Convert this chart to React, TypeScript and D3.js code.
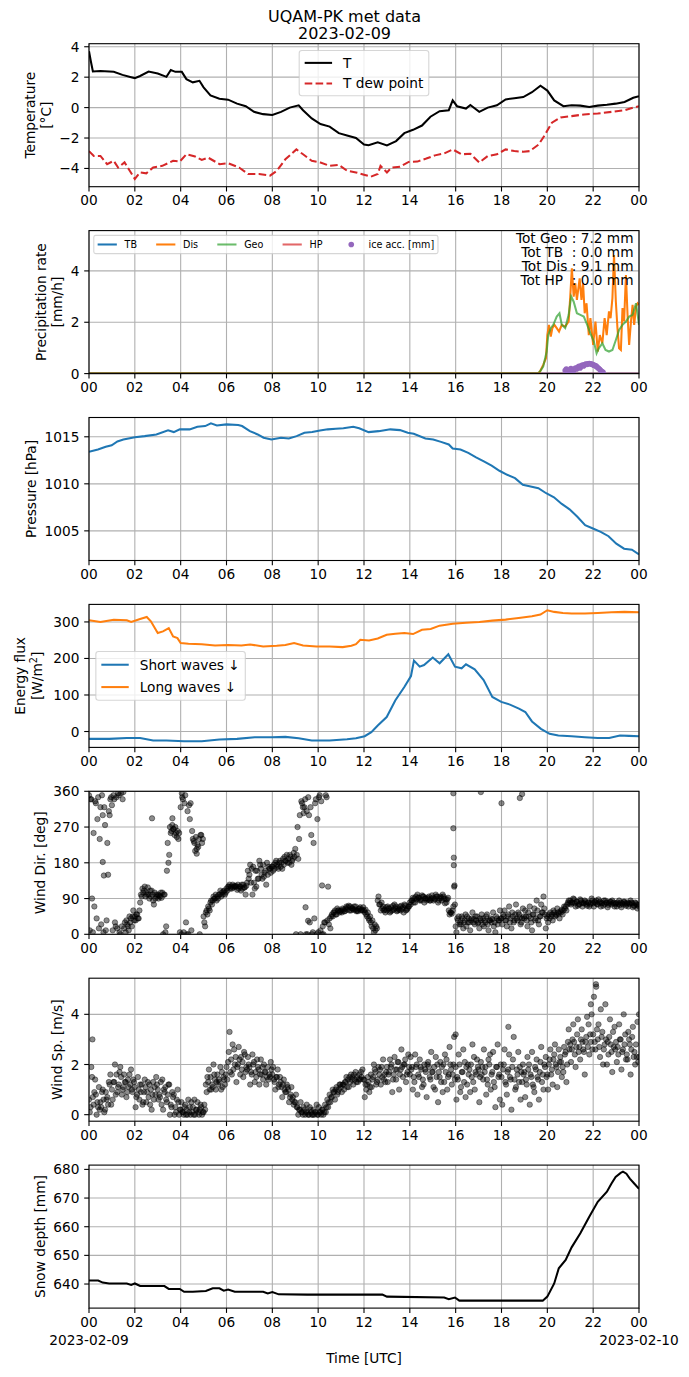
import React from 'react';
import * as d3 from 'd3';

const W = 689;
const H = 1377;
const LEFT = 89;
const RIGHT = 639;
const PANEL_TOP = 43.7;
const PANEL_STEP = 186.9;
const PANEL_H = 143;
const FONT = '"DejaVu Sans", sans-serif';
const FS = 13.7;
const GRID = '#b0b0b0';

const HOUR_TICKS = d3.range(0, 25, 2);
const HOUR_LABELS = ['00', '02', '04', '06', '08', '10', '12', '14', '16', '18', '20', '22', '00'];

// ---- temperature [hour, degC]
const TEMP: [number, number][] = [
  [0, 3.7], [0.08, 3.05], [0.17, 2.37], [0.5, 2.4], [1.08, 2.35], [1.46, 2.15], [1.84, 2.0], [2, 1.94], [2.23, 2.08], [2.6, 2.37],
  [3, 2.24], [3.38, 2.02], [3.57, 2.47], [3.77, 2.35], [4.05, 2.35], [4.25, 1.87], [4.53, 1.66], [4.82, 1.76], [5, 1.33], [5.3, 0.8],
  [5.69, 0.58], [6.07, 0.52], [6.46, 0.26], [6.84, 0.09], [7.2, -0.28], [7.6, -0.43], [8, -0.49], [8.38, -0.28], [8.76, 0], [9.15, 0.15],
  [9.34, -0.17], [9.72, -0.71], [10.1, -1.08], [10.5, -1.25], [10.9, -1.68], [11.26, -1.83], [11.65, -2.0], [12, -2.43], [12.2, -2.47], [12.6, -2.28],
  [13, -2.49], [13.4, -2.2], [13.76, -1.68], [14.14, -1.46], [14.53, -1.18], [14.9, -0.6], [15.3, -0.24], [15.7, -0.17], [15.87, 0.47], [16.06, 0.09],
  [16.45, -0.06], [16.64, 0.17], [17.03, -0.28], [17.4, 0], [17.8, 0.15], [18.18, 0.54], [18.56, 0.62], [18.95, 0.69], [19.33, 1.01], [19.7, 1.44],
  [20, 1.12], [20.3, 0.47], [20.7, 0.09], [21.06, 0.15], [21.44, 0.13], [21.83, 0.04], [22.2, 0.13], [22.6, 0.19], [22.98, 0.26], [23.37, 0.37],
  [23.75, 0.65], [24, 0.75],
];

const DEW: [number, number][] = [
  [0, -2.86], [0.21, -3.18], [0.5, -3.18], [0.79, -3.72], [1.08, -3.5], [1.27, -3.94], [1.55, -3.6], [1.75, -4.09], [2, -4.69], [2.23, -4.26],
  [2.5, -4.32], [2.8, -3.94], [3.2, -3.83], [3.67, -3.5], [3.96, -3.55], [4.25, -3.07], [4.63, -3.22], [4.92, -3.44], [5.2, -3.29], [5.7, -3.72],
  [6.07, -3.66], [6.55, -3.94], [6.94, -4.37], [7.42, -4.37], [7.9, -4.47], [8.2, -4.15], [8.57, -3.4], [9.05, -2.75], [9.34, -3.07], [9.72, -3.5],
  [10.1, -3.61], [10.5, -3.83], [10.9, -3.76], [11.26, -4.15], [11.65, -4.26], [12, -4.41], [12.3, -4.54], [12.6, -4.37], [12.72, -3.83], [13, -4.26],
  [13.2, -3.94], [13.57, -3.89], [13.95, -3.57], [14.33, -3.55], [14.72, -3.35], [15.1, -3.14], [15.5, -3.01], [15.87, -2.75], [16.25, -3.07], [16.64, -3.03],
  [17.03, -3.61], [17.4, -3.18], [17.8, -3.07], [18.18, -2.75], [18.56, -2.86], [18.95, -2.9], [19.23, -2.86], [19.62, -2.43], [19.9, -1.78], [20.2, -0.99],
  [20.58, -0.65], [21.06, -0.56], [21.6, -0.45], [22.2, -0.39], [22.8, -0.28], [23.37, -0.17], [23.75, 0], [24, 0.09],
];

// ---- precipitation rate [hour, mm/h]
const PR_TB: [number, number][] = [[0, 0], [24, 0]];
const PR_HP: [number, number][] = [[0, 0], [24, 0]];
const PR_DIS: [number, number][] = [
  [0, 0], [19.6, 0], [19.68, 0.08], [19.82, 0.34], [19.94, 0.6], [20.0, 1.5], [20.07, 1.9], [20.15, 1.44], [20.22, 1.77], [20.31, 1.9],
  [20.41, 1.77], [20.51, 1.64], [20.63, 1.9], [20.78, 1.83], [20.93, 2.03], [21.0, 3.0], [21.07, 4.1], [21.15, 3.0], [21.22, 3.52], [21.29, 2.87],
  [21.41, 3.71], [21.49, 2.87], [21.56, 3.52], [21.63, 2.35], [21.71, 2.74], [21.81, 1.5], [21.88, 2.16], [22.0, 1.12], [22.1, 2.03], [22.2, 0.86],
  [22.29, 1.5], [22.4, 1.18], [22.5, 2.16], [22.59, 1.5], [22.69, 2.42], [22.76, 2.16], [22.84, 2.94], [22.91, 4.62], [22.99, 2.8], [23.06, 1.77],
  [23.13, 0.99], [23.21, 0.92], [23.28, 2.55], [23.35, 2.03], [23.43, 3.84], [23.5, 2.29], [23.57, 1.12], [23.65, 2.03], [23.72, 2.68], [23.79, 1.9],
  [23.87, 2.61], [23.94, 2.74], [24, 2.68],
];
const PR_GEO: [number, number][] = [
  [0, 0.02], [19.6, 0.02], [19.68, 0.08], [19.82, 0.27], [19.97, 0.86], [20.04, 1.5], [20.15, 1.77], [20.26, 1.9], [20.41, 2.22], [20.53, 2.35],
  [20.63, 1.9], [20.78, 1.77], [20.93, 2.29], [21.04, 3.0], [21.15, 2.8], [21.29, 2.35], [21.44, 2.29], [21.59, 2.22], [21.74, 1.9], [21.88, 1.57],
  [22.03, 1.25], [22.15, 0.79], [22.25, 0.99], [22.4, 1.18], [22.54, 0.92], [22.69, 0.86], [22.84, 0.92], [22.99, 1.31], [23.13, 1.7], [23.28, 1.9],
  [23.43, 2.03], [23.57, 2.22], [23.72, 2.29], [23.87, 2.74], [23.94, 2.29], [24, 1.9],
];
const ICE: [number, number][] = [
  [20.78, 0.12], [20.83, 0.18], [20.88, 0.1], [20.93, 0.06], [20.98, 0.14], [21.03, 0.2], [21.08, 0.14], [21.13, 0.1], [21.18, 0.17], [21.23, 0.22],
  [21.28, 0.18], [21.33, 0.25], [21.38, 0.28], [21.43, 0.22], [21.48, 0.3], [21.53, 0.33], [21.58, 0.3], [21.63, 0.35], [21.68, 0.37], [21.73, 0.36],
  [21.78, 0.38], [21.83, 0.39], [21.88, 0.38], [21.93, 0.37], [21.98, 0.35], [22.03, 0.33], [22.08, 0.31], [22.13, 0.29], [22.18, 0.25], [22.23, 0.21],
  [22.28, 0.17], [22.33, 0.12], [22.38, 0.08], [22.43, 0.05],
];
const PR_TOTALS = ['Tot Geo : 7.2 mm', 'Tot TB  : 0.0 mm', 'Tot Dis : 9.1 mm', 'Tot HP  : 0.0 mm'];

// ---- pressure [hour, hPa]
const PRESSURE: [number, number][] = [
  [0, 1013.4], [0.39, 1013.64], [0.73, 1013.93], [0.99, 1014.1], [1.24, 1014.5], [1.5, 1014.7], [2.0, 1014.96], [2.43, 1015.07], [2.94, 1015.25], [3.45, 1015.68],
  [3.7, 1015.5], [3.96, 1015.79], [4.39, 1015.79], [4.73, 1016.07], [5.07, 1016.14], [5.32, 1016.43], [5.58, 1016.21], [6.0, 1016.32], [6.51, 1016.25], [6.68, 1016.14],
  [7.02, 1015.6], [7.36, 1015.25], [7.62, 1014.9], [7.96, 1014.71], [8.38, 1014.9], [8.72, 1014.82], [9.06, 1015.07], [9.4, 1015.43], [9.74, 1015.5], [10.08, 1015.68],
  [10.42, 1015.79], [10.77, 1015.86], [11.1, 1015.9], [11.53, 1016.07], [11.79, 1015.9], [12.2, 1015.5], [12.64, 1015.6], [13.15, 1015.79], [13.57, 1015.71], [13.91, 1015.43],
  [14.17, 1015.32], [14.68, 1014.82], [15.02, 1014.71], [15.36, 1014.46], [15.7, 1014.18], [15.87, 1013.75], [16.21, 1013.64], [16.55, 1013.29], [16.89, 1012.82], [17.23, 1012.39],
  [17.57, 1011.93], [17.91, 1011.39], [18.25, 1010.96], [18.59, 1010.6], [18.93, 1009.89], [19.27, 1009.71], [19.61, 1009.54], [19.95, 1009.0], [20.29, 1008.57], [20.63, 1007.86],
  [20.97, 1007.29], [21.31, 1006.5], [21.65, 1005.6], [21.99, 1005.25], [22.33, 1004.9], [22.67, 1004.43], [23.01, 1003.64], [23.35, 1003.11], [23.69, 1003.0], [24, 1002.5],
];

// ---- radiation [hour, W/m2]
const LONGWAVE: [number, number][] = [
  [0, 304.5], [0.5, 300], [1.08, 306], [1.65, 304.5], [1.84, 300], [2.23, 308], [2.52, 313.7], [2.7, 301.7], [3.0, 269.5], [3.23, 274],
  [3.48, 283], [3.67, 260], [3.86, 255.7], [4.0, 242], [4.34, 240], [4.92, 239], [5.5, 235.5], [6.07, 237], [6.65, 235.5], [7.03, 238.3],
  [7.6, 232.7], [8.19, 234.6], [8.57, 237], [8.95, 242], [9.34, 235.5], [9.92, 232.7], [10.5, 232.7], [11.07, 231], [11.45, 234.6], [11.65, 239],
  [11.84, 251], [12.22, 249.3], [12.6, 254.8], [12.99, 265], [13.37, 267.7], [13.76, 269.5], [14.14, 266.8], [14.53, 278.7], [14.91, 280.6], [15.3, 289.8],
  [15.87, 295.3], [16.45, 298], [17.03, 300], [17.6, 303.6], [18.18, 306.3], [18.75, 311], [19.33, 315.5], [19.7, 320], [20.0, 332], [20.3, 327.5],
  [20.68, 324.7], [21.06, 323], [21.64, 323], [22.2, 324.7], [22.8, 326.6], [23.37, 327.5], [24, 326.6],
];
const SHORTWAVE: [number, number][] = [
  [0, -20.2], [0.88, -20.2], [1.65, -17.5], [2.23, -17.5], [2.8, -24.8], [3.38, -24.8], [4.15, -26.7], [4.92, -26.7], [5.69, -22], [6.46, -20.2],
  [7.23, -15.6], [7.99, -15.6], [8.57, -14.7], [9.15, -18.4], [9.72, -24.8], [10.5, -24.8], [11.26, -21.2], [11.65, -18.4], [12.03, -12.9], [12.32, -1.8],
  [12.6, 16.6], [12.99, 39.6], [13.37, 85.6], [13.76, 122], [14.05, 151.8], [14.18, 194], [14.43, 177.6], [14.62, 182], [15.0, 202.4], [15.3, 186.8],
  [15.68, 211.6], [15.97, 177.6], [16.26, 173], [16.45, 184], [16.83, 170.2], [17.22, 140.8], [17.6, 94.8], [17.99, 81], [18.37, 73.6], [18.76, 62.6],
  [19.04, 53.4], [19.33, 27.6], [19.72, 7.4], [20.1, -6.4], [20.48, -11], [21.06, -12.9], [21.64, -15.6], [22.2, -17.5], [22.7, -17.5], [23.17, -11],
  [23.56, -12], [24, -12.9],
];

// ---- wind direction, three samples per 0.1 h (at h, h + 0.033, h + 0.067), deg
const WIND_DIR_A = [
  350, 340, 255, 330, 345, 320, 300, 275, 230, 300,
  325, 340, 345, 350, 355, 358, 5, 20, 30, 45,
  45, 50, 60, 95, 110, 105, 100, 95, 85, 90,
  100, 95, 105, 100, 160, 200, 260, 265, 255, 240,
  320, 340, 350, 310, 290, 260, 230, 215, 240, 250,
  45, 55, 70, 80, 85, 90, 95, 100, 105, 110,
  115, 120, 120, 118, 122, 125, 120, 115, 118, 130,
  150, 165, 130, 120, 140, 165, 175, 160, 150, 165,
  170, 165, 175, 180, 180, 175, 185, 190, 195, 190,
  215, 270, 300, 330, 320, 310, 300, 250, 230, 340,
  5, 10, 20, 30, 35, 40, 50, 55, 50, 60,
  60, 62, 65, 68, 70, 65, 62, 60, 65, 62,
  60, 50, 40, 30, 15, 10, 85, 75, 65, 62,
  60, 65, 68, 62, 70, 65, 60, 68, 72, 65,
  80, 85, 90, 88, 92, 85, 95, 90, 88, 85,
  92, 88, 95, 90, 85, 90, 80, 60, 55, 70,
  20, 35, 30, 40, 35, 45, 30, 40, 38, 35,
  30, 35, 40, 30, 25, 35, 38, 30, 40, 35,
  40, 45, 35, 50, 40, 45, 50, 35, 42, 40,
  40, 35, 45, 30, 50, 40, 35, 45, 55, 50,
  45, 40, 50, 55, 48, 52, 55, 60, 70, 80,
  85, 80, 78, 82, 75, 80, 78, 76, 80, 78,
  78, 80, 75, 82, 78, 76, 80, 78, 75, 80,
  78, 76, 80, 75, 78, 80, 76, 78, 72, 75,
];
const WIND_DIR_B = [
  10, 90, 70, 40, 15, 25, 5, 10, 150, 340,
  10, 30, 15, 5, 20, 15, 35, 10, 40, 60,
  35, 40, 80, 115, 120, 100, 90, 110, 75, 100,
  90, 105, 0, 5, 230, 270, 275, 250, 245, 255,
  0, 5, 30, 0, 330, 240, 210, 225, 0, 230,
  30, 60, 65, 85, 95, 100, 90, 110, 100, 100,
  110, 125, 115, 122, 120, 115, 110, 125, 100, 160,
  175, 100, 115, 160, 185, 150, 145, 125, 170, 155,
  160, 180, 170, 185, 165, 195, 200, 180, 175, 205,
  0, 190, 0, 320, 340, 0, 30, 0, 40, 0,
  345, 335, 0, 350, 120, 15, 45, 60, 65, 55,
  55, 58, 70, 72, 60, 62, 70, 58, 68, 60,
  55, 45, 35, 20, 5, 20, 95, 60, 70, 55,
  70, 55, 60, 75, 58, 62, 72, 55, 60, 70,
  75, 92, 80, 100, 85, 98, 80, 85, 95, 90,
  85, 100, 80, 95, 100, 78, 88, 50, 52, 120,
  5, 45, 25, 15, 50, 30, 10, 55, 25, 45,
  15, 50, 20, 45, 10, 40, 55, 5, 25, 60,
  25, 60, 20, 70, 15, 30, 75, 55, 25, 65,
  60, 20, 70, 10, 65, 85, 25, 75, 95, 15,
  30, 55, 35, 45, 65, 40, 62, 70, 60, 85,
  75, 90, 70, 72, 88, 70, 85, 72, 70, 90,
  70, 85, 88, 70, 72, 85, 68, 82, 85, 70,
  70, 85, 68, 82, 72, 70, 85, 68, 80, 65,
];
const WIND_DIR_C = [
  340, 5, 335, 290, 240, 350, 320, 35, 310, 345,
  350, 20, 355, 0, 340, 30, 25, 45, 20, 35,
  50, 40, 100, 105, 95, 118, 110, 100, 105, 95,
  98, 92, 100, 20, 180, 255, 265, 270, 260, 5,
  345, 330, 0, 325, 10, 235, 245, 220, 250, 240,
  20, 50, 60, 75, 90, 85, 100, 95, 108, 105,
  120, 115, 125, 120, 112, 120, 125, 118, 122, 140,
  130, 170, 160, 140, 175, 140, 155, 180, 165, 170,
  175, 185, 165, 170, 190, 185, 180, 200, 185, 195,
  200, 240, 335, 305, 0, 345, 320, 5, 330, 290,
  350, 0, 30, 345, 25, 45, 55, 50, 60, 58,
  65, 58, 62, 60, 66, 70, 58, 64, 60, 68,
  62, 55, 45, 35, 25, 15, 75, 80, 60, 68,
  65, 58, 72, 66, 60, 70, 64, 75, 62, 70,
  85, 80, 95, 92, 88, 95, 90, 92, 85, 98,
  90, 95, 85, 92, 95, 88, 92, 55, 60, 75,
  40, 25, 45, 30, 20, 40, 35, 30, 45, 28,
  40, 25, 35, 50, 35, 30, 20, 45, 35, 40,
  50, 35, 45, 30, 55, 35, 40, 50, 30, 45,
  45, 55, 40, 50, 35, 60, 45, 55, 65, 40,
  50, 45, 60, 50, 55, 58, 50, 65, 75, 78,
  80, 88, 82, 76, 85, 78, 82, 80, 75, 85,
  82, 76, 80, 78, 85, 80, 74, 82, 78, 76,
  80, 74, 78, 82, 76, 78, 80, 72, 78, 74,
];
const WIND_DIR_EXTRA: [number, number][] = [
  [0.6, 182], [0.65, 148], [2.75, 292], [3.64, 292], [4.05, 355], [4.7, 203], [9.45, 68], [9.56, 34], [10.17, 123],
  [15.9, 355], [15.9, 267], [15.92, 193], [15.92, 174], [15.95, 123], [17.1, 358], [18.0, 330], [18.8, 343], [18.9, 353], [24, 70],
];

// ---- wind speed, three samples per 0.1 h, m/s
const WIND_SP_A = [
  0.6, 1.9, 0.4, 0.8, 0.3, 0.5, 1.0, 0.2, 0.7, 1.2,
  1.0, 1.3, 1.6, 1.2, 1.5, 1.1, 1.3, 1.4, 1.2, 0.9,
  1.1, 0.8, 0.6, 1.2, 0.9, 0.5, 0.7, 1.0, 1.3, 0.8,
  1.0, 0.7, 1.4, 0.9, 0.5, 1.2, 0.3, 0.8, 0.1, 0.5,
  0.2, 0.1, 0.4, 0.0, 0.3, 0.1, 0.6, 0.2, 0.0, 0.3,
  0.1, 1.2, 1.3, 1.5, 1.1, 1.4, 1.6, 1.3, 1.7, 1.4,
  1.9, 2.5, 2.2, 1.8, 2.3, 2.0, 1.6, 2.1, 2.4, 1.8,
  1.9, 1.6, 2.1, 1.5, 1.8, 2.2, 1.4, 1.7, 1.9, 1.5,
  1.6, 1.3, 1.5, 1.2, 1.1, 1.4, 0.9, 1.0, 0.8, 0.7,
  0.5, 0.3, 0.2, 0.1, 0.2, 0.4, 0.0, 0.1, 0.2, 0.1,
  0.0, 0.1, 0.2, 0.4, 0.6, 0.8, 0.7, 0.9, 1.1, 1.0,
  1.1, 1.2, 1.3, 1.4, 1.3, 1.5, 1.4, 1.5, 1.6, 1.5,
  1.4, 1.0, 1.3, 1.6, 1.5, 1.7, 1.4, 1.8, 1.5, 1.6,
  1.9, 1.7, 2.0, 1.6, 1.4, 2.1, 1.8, 1.5, 2.2, 1.7,
  1.6, 1.9, 1.3, 2.0, 1.5, 1.8, 1.2, 1.7, 2.1, 1.4,
  1.7, 1.0, 2.0, 1.5, 1.9, 1.3, 2.2, 1.6, 1.8, 2.0,
  1.9, 1.4, 0.9, 1.7, 2.1, 1.2, 1.8, 1.5, 2.3, 1.6,
  1.8, 2.1, 1.4, 1.9, 1.2, 2.4, 1.7, 1.1, 1.9, 1.6,
  1.5, 2.0, 1.2, 1.8, 1.4, 2.2, 1.0, 1.6, 1.9, 1.3,
  1.7, 1.2, 2.0, 1.5, 1.1, 1.8, 1.4, 2.1, 1.6, 1.9,
  1.6, 2.2, 1.8, 2.4, 1.9, 2.6, 2.1, 1.7, 2.5, 2.9,
  2.8, 3.0, 2.4, 3.2, 2.7, 3.4, 2.5, 3.1, 3.6, 2.9,
  3.2, 2.6, 3.0, 2.3, 3.3, 2.8, 2.0, 3.1, 2.5, 2.7,
  2.9, 2.4, 3.0, 2.6, 3.2, 2.2, 2.8, 3.1, 2.5, 2.3,
];
const WIND_SP_B = [
  0.1, 1.5, 0.9, 0.0, 1.1, 0.3, 0.6, 0.9, 0.4, 1.6,
  0.6, 2.0, 0.9, 1.7, 0.8, 1.6, 0.7, 1.1, 1.8, 1.4,
  0.3, 1.5, 1.2, 0.4, 1.4, 0.9, 1.2, 0.2, 0.6, 1.5,
  0.6, 1.3, 0.2, 1.1, 0.8, 0.0, 0.9, 0.0, 0.6, 0.0,
  0.5, 0.0, 0.0, 0.6, 0.0, 0.3, 0.0, 0.5, 0.2, 0.0,
  0.4, 0.9, 1.8, 1.0, 2.0, 1.0, 1.2, 1.9, 1.1, 1.2,
  1.4, 3.3, 1.6, 2.6, 1.3, 2.7, 2.3, 1.5, 1.7, 2.3,
  1.2, 2.4, 1.3, 2.2, 1.2, 1.6, 2.0, 1.2, 1.4, 2.1,
  1.9, 1.0, 1.8, 1.5, 0.7, 1.0, 1.2, 0.5, 1.1, 0.4,
  0.8, 0.0, 0.5, 0.0, 0.0, 0.1, 0.3, 0.0, 0.0, 0.4,
  0.3, 0.0, 0.0, 0.1, 0.3, 0.5, 1.0, 0.6, 0.8, 1.2,
  0.9, 1.0, 1.5, 1.1, 1.6, 1.2, 1.7, 1.3, 1.4, 1.8,
  0.7, 1.2, 0.9, 1.1, 2.0, 1.2, 1.9, 1.2, 2.2, 1.3,
  1.3, 2.2, 0.9, 2.3, 1.8, 1.0, 2.6, 2.0, 1.3, 2.4,
  2.3, 1.0, 2.4, 0.8, 2.2, 1.1, 2.0, 0.7, 1.9, 2.5,
  1.1, 2.3, 0.5, 2.1, 0.9, 2.4, 1.0, 2.7, 1.2, 3.1,
  0.6, 2.4, 1.1, 2.6, 0.7, 2.0, 0.9, 2.8, 1.0, 2.2,
  0.5, 1.6, 2.6, 0.8, 2.2, 1.0, 2.5, 0.3, 2.8, 0.6,
  0.4, 2.6, 0.8, 2.4, 0.2, 3.1, 1.1, 2.5, 0.6, 2.0,
  0.7, 2.3, 0.4, 2.5, 0.9, 2.2, 0.6, 2.7, 1.0, 2.3,
  1.0, 2.6, 1.2, 2.8, 1.1, 2.1, 1.5, 2.7, 1.3, 3.4,
  2.1, 3.6, 1.9, 3.8, 2.2, 2.9, 1.6, 3.9, 2.4, 4.0,
  4.7, 5.1, 3.6, 4.2, 2.0, 4.4, 2.9, 3.8, 1.7, 3.5,
  2.1, 3.6, 1.8, 4.0, 2.2, 3.3, 1.6, 3.5, 2.0, 3.7,
];
const WIND_SP_C = [
  0.3, 0.7, 1.4, 0.5, 0.2, 0.9, 0.1, 0.6, 1.3, 0.4,
  1.3, 0.8, 1.1, 1.9, 1.0, 1.3, 0.9, 1.6, 1.0, 1.3,
  0.7, 1.0, 0.9, 0.5, 1.1, 1.3, 0.4, 0.8, 1.1, 1.2,
  0.8, 0.4, 1.0, 0.6, 1.2, 0.4, 0.7, 0.3, 1.0, 0.2,
  0.1, 0.3, 0.2, 0.1, 0.5, 0.0, 0.2, 0.1, 0.4, 0.1,
  0.2, 1.5, 1.0, 1.2, 1.6, 1.3, 1.4, 1.0, 1.5, 1.6,
  2.1, 1.7, 2.8, 2.0, 1.9, 2.2, 1.8, 2.5, 1.9, 2.0,
  1.7, 2.0, 1.7, 1.9, 1.6, 1.9, 1.7, 1.5, 1.6, 1.8,
  1.4, 1.5, 1.1, 1.3, 1.2, 0.9, 1.1, 0.7, 0.6, 0.5,
  0.3, 0.2, 0.1, 0.3, 0.1, 0.0, 0.2, 0.0, 0.1, 0.0,
  0.1, 0.2, 0.1, 0.3, 0.5, 0.7, 0.9, 1.0, 0.9, 1.2,
  1.2, 1.3, 1.1, 1.5, 1.4, 1.6, 1.3, 1.4, 1.7, 1.4,
  1.2, 1.5, 1.1, 1.4, 1.8, 1.3, 1.6, 1.9, 1.4, 1.7,
  1.6, 1.9, 1.4, 1.8, 2.1, 1.6, 1.9, 2.0, 1.6, 1.9,
  1.8, 1.5, 1.9, 1.6, 1.9, 1.4, 1.8, 2.0, 1.5, 1.7,
  1.9, 1.5, 1.7, 1.3, 2.0, 1.7, 1.5, 2.0, 1.6, 1.4,
  1.5, 2.0, 1.7, 1.3, 1.9, 1.6, 2.0, 1.3, 1.7, 1.9,
  1.5, 1.9, 1.7, 1.4, 2.0, 1.6, 1.3, 1.9, 1.5, 2.0,
  1.8, 1.3, 1.7, 1.5, 1.9, 1.4, 1.8, 1.3, 1.7, 1.6,
  1.4, 1.8, 1.6, 1.2, 1.9, 1.5, 1.7, 1.3, 2.0, 1.5,
  2.0, 1.6, 2.2, 2.0, 1.7, 2.3, 1.9, 2.4, 2.0, 2.6,
  2.6, 2.9, 2.7, 2.5, 3.0, 2.6, 2.9, 2.7, 3.2, 2.6,
  2.9, 3.4, 2.7, 3.1, 2.6, 3.0, 2.4, 2.8, 3.3, 2.6,
  2.7, 3.0, 2.5, 2.8, 2.4, 3.0, 2.6, 2.3, 2.8, 2.1,
];
const WIND_SP_EXTRA: [number, number][] = [
  [0.15, 3.0], [16.0, 3.2], [18.3, 3.5], [21.9, 4.4], [22.12, 5.2], [24, 4.0], [24, 2.3],
];

// ---- snow depth [hour, mm]
const SNOW: [number, number][] = [
  [0, 641.2], [0.4, 641.2], [0.6, 640.5], [0.88, 640.2], [1.65, 640.2], [1.84, 639.7], [2.0, 640.2], [2.23, 639.3], [3.29, 639.3], [3.48, 638.3],
  [3.96, 638.3], [4.15, 637.3], [4.53, 637.3], [5.1, 637.6], [5.4, 638.5], [5.69, 638.5], [5.88, 637.7], [6.07, 638.1], [6.36, 637.3], [7.6, 637.3],
  [7.8, 636.7], [8.0, 637.2], [8.28, 636.4], [9.53, 636.3], [12.8, 636.3], [13.0, 635.6], [15.5, 635.3], [15.7, 634.7], [15.97, 635.3], [16.16, 634.2],
  [19.8, 634.2], [20.0, 635.6], [20.3, 640.2], [20.5, 645.5], [20.8, 648.4], [21.06, 652.8], [21.44, 657.7], [21.83, 663.5], [22.2, 668.7], [22.6, 672.2],
  [22.8, 675.1], [22.98, 677.4], [23.2, 678.8], [23.3, 679.2], [23.45, 678.5], [23.6, 676.8], [23.8, 675.0], [24, 673.2],
];

const canvasCtx = typeof document !== 'undefined' ? document.createElement('canvas').getContext('2d') : null;
function textWidth(s: string, size: number) {
  if (!canvasCtx) return s.length * size * 0.62;
  canvasCtx.font = `${size}px "DejaVu Sans"`;
  return canvasCtx.measureText(s).width;
}

const fmtTick = (v: number) => (v < 0 ? '\u2212' + Math.abs(v) : String(v));

type Scale = d3.ScaleLinear<number, number>;

type AxesProps = {
  index: number;
  domain: [number, number];
  ticks: number[];
  label: React.ReactNode[];
  labelGap?: number;
  labelShift?: number;
  dates?: boolean;
  children: (x: Scale, y: Scale) => React.ReactNode;
  overlay?: (x: Scale, y: Scale, top: number, bottom: number) => React.ReactNode;
};

const Axes = ({ index, domain, ticks, label, labelGap = 15.5, labelShift = 0, dates = false, children, overlay }: AxesProps) => {
  const top = PANEL_TOP + index * PANEL_STEP;
  const bottom = top + PANEL_H;
  const x = d3.scaleLinear().domain([0, 24]).range([LEFT, RIGHT]);
  const y = d3.scaleLinear().domain(domain).range([bottom, top]);
  const tickText = ticks.map(fmtTick);
  const maxW = d3.max(tickText, (s) => textWidth(s, FS)) ?? 0;
  const lastBase = LEFT - 9.6 - maxW - 5.5 - 3.2 - labelShift;
  const midY = (top + bottom) / 2;
  const clipId = `clip-${index}`;
  return (
    <g>
      <defs>
        <clipPath id={clipId}>
          <rect x={LEFT} y={top} width={RIGHT - LEFT} height={PANEL_H} />
        </clipPath>
      </defs>
      {HOUR_TICKS.map((h) => (
        <line key={'gx' + h} x1={x(h)} x2={x(h)} y1={top} y2={bottom} stroke={GRID} strokeWidth={1.1} />
      ))}
      {ticks.map((t) => (
        <line key={'gy' + t} x1={LEFT} x2={RIGHT} y1={y(t)} y2={y(t)} stroke={GRID} strokeWidth={1.1} />
      ))}
      <g clipPath={`url(#${clipId})`}>{children(x, y)}</g>
      <rect x={LEFT} y={top} width={RIGHT - LEFT} height={PANEL_H} fill="none" stroke="black" strokeWidth={1.1} />
      {overlay && overlay(x, y, top, bottom)}
      {ticks.map((t, i) => (
        <g key={'ty' + t}>
          <line x1={LEFT - 4.8} x2={LEFT} y1={y(t)} y2={y(t)} stroke="black" strokeWidth={1.1} />
          <text x={LEFT - 9.6} y={y(t) + 5} textAnchor="end" fontSize={FS}>{tickText[i]}</text>
        </g>
      ))}
      {HOUR_TICKS.map((h, i) => (
        <g key={'tx' + h}>
          <line x1={x(h)} x2={x(h)} y1={bottom} y2={bottom + 4.8} stroke="black" strokeWidth={1.1} />
          <text x={x(h)} y={bottom + 18.7} textAnchor="middle" fontSize={FS}>{HOUR_LABELS[i]}</text>
        </g>
      ))}
      {dates && (
        <g fontSize={FS}>
          <text x={x(0)} y={bottom + 37} textAnchor="middle">2023-02-09</text>
          <text x={x(24)} y={bottom + 37} textAnchor="middle">2023-02-10</text>
          <text x={(LEFT + RIGHT) / 2} y={bottom + 55} textAnchor="middle">Time [UTC]</text>
        </g>
      )}
      {label.map((ln, k) => {
        const bx = lastBase - (label.length - 1 - k) * labelGap;
        return (
          <text key={'yl' + k} transform={`translate(${bx},${midY}) rotate(-90)`} textAnchor="middle" fontSize={FS}>
            {ln}
          </text>
        );
      })}
    </g>
  );
};

type LegendItem = { label: string; color: string; dash?: string; opacity?: number; marker?: boolean };

// matplotlib-like legend box; rows stacked (ncol = 1) or one row (ncol = n)
const Legend = ({ items, left, top, fs, horizontal = false, rowH }: { items: LegendItem[]; left: number; top: number; fs: number; horizontal?: boolean; rowH?: number }) => {
  const pad = 0.4 * fs;
  const hl = 2 * fs;
  const htp = 0.8 * fs;
  const rh = rowH ?? fs;
  const widths = items.map((it) => textWidth(it.label, fs));
  let boxW: number;
  let boxH: number;
  const pos: { x: number; cy: number }[] = [];
  if (horizontal) {
    let cx = left + pad;
    items.forEach((_, i) => {
      pos.push({ x: cx, cy: top + pad + rh / 2 });
      cx += hl + htp + widths[i] + (i < items.length - 1 ? 2 * fs : 0);
    });
    boxW = cx - left + pad;
    boxH = 2 * pad + rh;
  } else {
    items.forEach((_, i) => pos.push({ x: left + pad, cy: top + pad + i * (rh + 0.5 * fs) + rh / 2 }));
    boxW = 2 * pad + hl + htp + (d3.max(widths) ?? 0);
    boxH = 2 * pad + items.length * rh + (items.length - 1) * 0.5 * fs;
  }
  return (
    <g>
      <rect x={left} y={top} width={boxW} height={boxH} rx={0.2 * fs} fill="white" fillOpacity={0.8} stroke="#cccccc" strokeOpacity={0.8} strokeWidth={1.1} />
      {items.map((it, i) => (
        <g key={it.label}>
          {it.marker ? (
            <circle cx={pos[i].x + hl / 2} cy={pos[i].cy} r={2.8} fill={it.color} />
          ) : (
            <line x1={pos[i].x} x2={pos[i].x + hl} y1={pos[i].cy} y2={pos[i].cy} stroke={it.color} strokeOpacity={it.opacity ?? 1} strokeWidth={2.05} strokeDasharray={it.dash} />
          )}
          <text x={pos[i].x + hl + htp} y={pos[i].cy + 0.36 * fs} fontSize={fs}>{it.label}</text>
        </g>
      ))}
    </g>
  );
};

const lineOf = (x: Scale, y: Scale, data: [number, number][]) =>
  d3.line<[number, number]>().x((d) => x(d[0])).y((d) => y(d[1]))(data) ?? '';

const scatterPts = (a: number[], b: number[], c: number[], extra: [number, number][]): [number, number][] => [
  ...a.map((v, i) => [i * 0.1, v] as [number, number]),
  ...b.map((v, i) => [i * 0.1 + 0.033, v] as [number, number]),
  ...c.map((v, i) => [i * 0.1 + 0.067, v] as [number, number]),
  ...extra,
];

const Dots = ({ x, y, pts }: { x: Scale; y: Scale; pts: [number, number][] }) => (
  <g>
    {pts.map((d, i) => (
      <circle key={i} cx={x(d[0])} cy={y(d[1])} r={2.7} fill="black" fillOpacity={0.45} stroke="black" strokeOpacity={0.45} strokeWidth={0.9} />
    ))}
  </g>
);

const App = () => {
  const dirPts = scatterPts(WIND_DIR_A, WIND_DIR_B, WIND_DIR_C, WIND_DIR_EXTRA);
  const spPts = scatterPts(WIND_SP_A, WIND_SP_B, WIND_SP_C, WIND_SP_EXTRA);
  const lw = 2.05;
  return (
    <svg width={W} height={H} style={{ position: 'absolute', left: 0, top: 0, background: 'white' }} fontFamily={FONT}>
      <rect width={W} height={H} fill="white" />
      <text x={W / 2} y={21.5} textAnchor="middle" fontSize={16}>UQAM-PK met data</text>
      <text x={W / 2} y={38.5} textAnchor="middle" fontSize={16}>2023-02-09</text>

      <Axes
        index={0}
        domain={[-5.2, 4.2]}
        ticks={[-4, -2, 0, 2, 4]}
        label={['Temperature', '[°C]']}
        overlay={(x, y, top) => (
          <Legend
            left={(LEFT + RIGHT) / 2 - 64.8}
            top={top + 0.5 * FS}
            fs={FS}
            items={[
              { label: 'T', color: 'black' },
              { label: 'T dew point', color: '#d62728', dash: '7.6,3.3' },
            ]}
          />
        )}
      >
        {(x, y) => (
          <>
            <path d={lineOf(x, y, TEMP)} fill="none" stroke="black" strokeWidth={lw} />
            <path d={lineOf(x, y, DEW)} fill="none" stroke="#d62728" strokeWidth={lw} strokeDasharray="7.6,3.3" />
          </>
        )}
      </Axes>

      <Axes
        index={1}
        domain={[0, 5.57]}
        ticks={[0, 2, 4]}
        label={['Precipitation rate', '[mm/h]']}
        overlay={(x, y, top) => (
          <g>
            <Legend
              left={LEFT + 4.8}
              top={top + 4.8}
              fs={9.6}
              horizontal
              rowH={10.5}
              items={[
                { label: 'TB', color: '#1f77b4' },
                { label: 'Dis', color: '#ff7f0e' },
                { label: 'Geo', color: '#2ca02c', opacity: 0.7 },
                { label: 'HP', color: '#d62728', opacity: 0.7 },
                { label: 'ice acc. [mm]', color: '#9467bd', marker: true },
              ]}
            />
            {PR_TOTALS.map((t, i) => (
              <text key={t} x={RIGHT - 5.5} y={top + 12.6 + i * 13.9} textAnchor="end" fontSize={FS} style={{ whiteSpace: 'pre' }}>
                {t}
              </text>
            ))}
          </g>
        )}
      >
        {(x, y) => (
          <>
            <path d={lineOf(x, y, PR_TB)} fill="none" stroke="#1f77b4" strokeWidth={lw} />
            <path d={lineOf(x, y, PR_DIS)} fill="none" stroke="#ff7f0e" strokeWidth={lw} />
            <path d={lineOf(x, y, PR_GEO)} fill="none" stroke="#2ca02c" strokeOpacity={0.7} strokeWidth={lw} />
            <path d={lineOf(x, y, PR_HP)} fill="none" stroke="#d62728" strokeOpacity={0.7} strokeWidth={lw} />
            {ICE.map((d, i) => (
              <circle key={i} cx={x(d[0])} cy={y(d[1])} r={2.8} fill="#9467bd" />
            ))}
          </>
        )}
      </Axes>

      <Axes index={2} domain={[1001.85, 1017.05]} ticks={[1005, 1010, 1015]} label={['Pressure [hPa]']}>
        {(x, y) => <path d={lineOf(x, y, PRESSURE)} fill="none" stroke="#1f77b4" strokeWidth={lw} />}
      </Axes>

      <Axes
        index={3}
        domain={[-43.5, 348]}
        ticks={[0, 100, 200, 300]}
        labelGap={17}
        labelShift={3}
        label={[
          'Energy flux',
          <>
            [W/m<tspan dy={-5} fontSize={9.6}>2</tspan>
            <tspan dy={5}>]</tspan>
          </>,
        ]}
        overlay={(x, y, top, bottom) => (
          <Legend
            left={LEFT + 0.5 * FS}
            top={(top + bottom) / 2 - 24.4}
            fs={FS}
            rowH={15.5}
            items={[
              { label: 'Short waves \u2193', color: '#1f77b4' },
              { label: 'Long waves \u2193', color: '#ff7f0e' },
            ]}
          />
        )}
      >
        {(x, y) => (
          <>
            <path d={lineOf(x, y, SHORTWAVE)} fill="none" stroke="#1f77b4" strokeWidth={lw} />
            <path d={lineOf(x, y, LONGWAVE)} fill="none" stroke="#ff7f0e" strokeWidth={lw} />
          </>
        )}
      </Axes>

      <Axes index={4} domain={[0, 360]} ticks={[0, 90, 180, 270, 360]} label={['Wind Dir. [deg]']}>
        {(x, y) => <Dots x={x} y={y} pts={dirPts} />}
      </Axes>

      <Axes index={5} domain={[-0.26, 5.44]} ticks={[0, 2, 4]} label={['Wind Sp. [m/s]']}>
        {(x, y) => <Dots x={x} y={y} pts={spPts} />}
      </Axes>

      <Axes index={6} domain={[631.6, 681.5]} ticks={[640, 650, 660, 670, 680]} label={['Snow depth [mm]']} dates>
        {(x, y) => <path d={lineOf(x, y, SNOW)} fill="none" stroke="black" strokeWidth={lw} />}
      </Axes>
    </svg>
  );
};

export default App;
